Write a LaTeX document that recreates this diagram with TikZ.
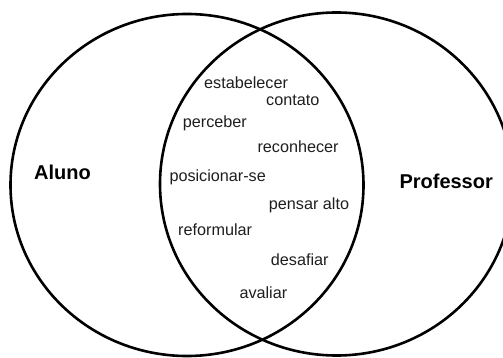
\documentclass[tikz,border=0pt]{standalone}
\usepackage{fontspec}
\setmainfont{Liberation Sans}
\begin{document}
\begin{tikzpicture}[x=1pt,y=-1pt,
  ring/.style={line width=2.6pt,black},
  word/.style={anchor=base west,inner sep=0pt,text=black!88,font=\fontsize{16.2}{18}\selectfont},
  setname/.style={anchor=base west,inner sep=0pt,text=black,font=\fontsize{20}{22}\selectfont\bfseries}]
\useasboundingbox (0,0) rectangle (503,358);
\clip (0,0) rectangle (503,358);
\fill[white] (0,0) rectangle (503,358);
\draw[ring] (187,185) ellipse [x radius=176.5, y radius=171];
\draw[ring] (336.5,184) ellipse [x radius=176.5, y radius=171.5];
\node[setname] (aluno) at (34,180) {Aluno};
\node[setname] (prof) at (399.3,188.3) {Professor};
\node[word] (w1) at (204,89) {estabelecer};
\node[word] (w2) at (266,106) {contato};
\node[word] (w3) at (182.7,128) {perceber};
\node[word] (w4) at (257.3,152.7) {reconhecer};
\node[word] (w5) at (169.3,181.7) {posicionar-se};
\node[word] (w6) at (268.7,210) {pensar alto};
\node[word] (w7) at (178,235.3) {reformular};
\node[word] (w8) at (270.7,265) {desafiar};
\node[word] (w9) at (239.3,298.3) {avaliar};
\end{tikzpicture}
\end{document}
